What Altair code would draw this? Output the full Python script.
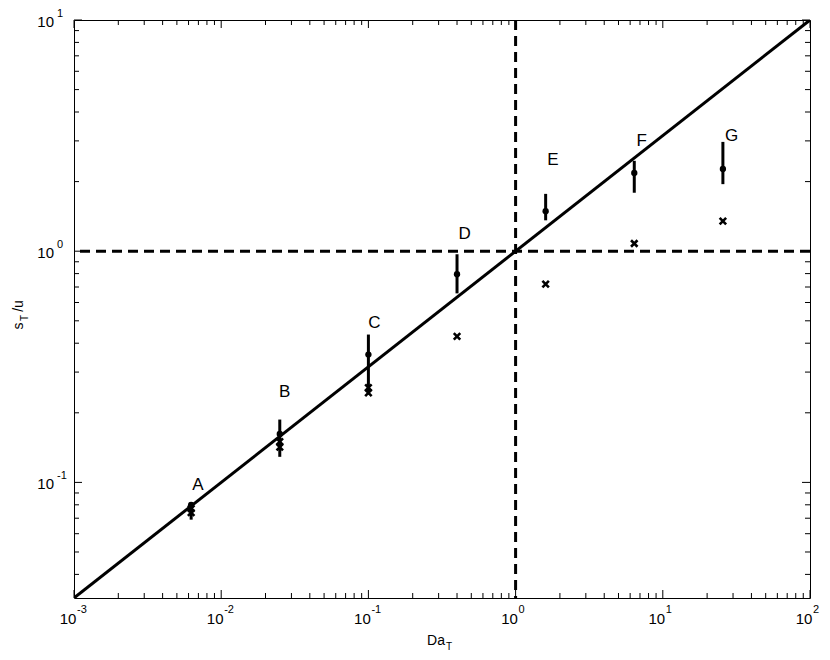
import altair as alt
import pandas as pd

# ---------------- data ----------------
names = ["A", "B", "C", "D", "E", "F", "G"]
da_t = [0.00625, 0.025, 0.1, 0.4, 1.6, 6.4, 25.6]
s_mean = [0.080, 0.162, 0.357, 0.795, 1.49, 2.18, 2.27]
s_lo = [0.069, 0.129, 0.240, 0.657, 1.36, 1.79, 1.95]
s_hi = [0.082, 0.187, 0.436, 0.970, 1.77, 2.46, 2.97]
s_cross = [0.074, 0.150, 0.257, 0.428, 0.72, 1.08, 1.35]
cross2_da = [0.00625, 0.025, 0.1]
cross2_s = [0.077, 0.142, 0.244]
label_da = [0.00695, 0.027, 0.110, 0.451, 1.79, 7.18, 29.3]
label_s = [0.0975, 0.247, 0.487, 1.185, 2.48, 3.0, 3.15]

fit_da = [1e-3, 1e2]
fit_s = [10 ** -1.5, 10.0]

x_decades = [1e-3, 1e-2, 1e-1, 1e0, 1e1, 1e2]
x_exps = ["-3", "-2", "-1", "0", "1", "2"]
y_decades = [1e-1, 1e0, 1e1]
y_exps = ["-1", "0", "1"]
x_minor = [k * 10.0 ** d for d in range(-3, 2) for k in range(2, 10)]
y_minor = [k * 10.0 ** d for d in range(-2, 1) for k in range(2, 10) if k * 10.0 ** d > 10 ** -1.5]

# ---------------- layout ----------------
W, H = 736, 578
FONT = "Liberation Sans"
xs = alt.Scale(type="log", domain=[1e-3, 1e2], nice=False)
ys = alt.Scale(type="log", domain=[10 ** -1.5, 10], nice=False)

def X(f="x"):
    return alt.X(f"{f}:Q", scale=xs, axis=None)

def Y(f="y"):
    return alt.Y(f"{f}:Q", scale=ys, axis=None)

pts = pd.DataFrame({"x": da_t, "y": s_mean, "lo": s_lo, "hi": s_hi, "c": s_cross, "name": names})
labs = pd.DataFrame({"x": label_da, "y": label_s, "name": names})
fit = pd.DataFrame({"x": fit_da, "y": fit_s})
c2 = pd.DataFrame({"x": cross2_da, "y": cross2_s})
xmaj = pd.DataFrame({"x": x_decades, "e": x_exps})
ymaj = pd.DataFrame({"y": y_decades, "e": y_exps})
xmin_df = pd.DataFrame({"x": x_minor})
ymin_df = pd.DataFrame({"y": y_minor})
ref = pd.DataFrame({"v": [1.0]})

layers = []

# ticks inside the box
for df, L in [(xmaj, 8), (xmin_df, 5)]:
    layers.append(alt.Chart(df).mark_rule(color="black", strokeWidth=1).encode(
        x=X(), y=alt.value(H), y2=alt.value(H - L)))
    layers.append(alt.Chart(df).mark_rule(color="black", strokeWidth=1).encode(
        x=X(), y=alt.value(0), y2=alt.value(L)))
for df, L in [(ymaj, 8), (ymin_df, 5)]:
    layers.append(alt.Chart(df).mark_rule(color="black", strokeWidth=1).encode(
        y=Y(), x=alt.value(0), x2=alt.value(L)))
    layers.append(alt.Chart(df).mark_rule(color="black", strokeWidth=1).encode(
        y=Y(), x=alt.value(W - L), x2=alt.value(W)))

# dashed reference lines
layers.append(alt.Chart(ref).mark_rule(color="black", strokeWidth=3, strokeDash=[10, 6]).encode(
    y=alt.Y("v:Q", scale=ys, axis=None)))
layers.append(alt.Chart(ref).mark_rule(color="black", strokeWidth=3, strokeDash=[10, 6]).encode(
    x=alt.X("v:Q", scale=xs, axis=None)))

# fit line
layers.append(alt.Chart(fit).mark_line(color="black", strokeWidth=3, clip=True).encode(x=X(), y=Y()))

# error bars
layers.append(alt.Chart(pts).mark_rule(color="black", strokeWidth=3).encode(
    x=X(), y=Y("lo"), y2="hi:Q"))
# mean dots
layers.append(alt.Chart(pts).mark_point(filled=True, color="black", size=40, shape="circle", opacity=1).encode(
    x=X(), y=Y()))
# crosses
cross_path = "M-1,-1L1,1M1,-1L-1,1"
layers.append(alt.Chart(pts).mark_point(shape=cross_path, filled=False, color="black", size=42,
                                        strokeWidth=2.6, opacity=1).encode(x=X(), y=Y("c")))
layers.append(alt.Chart(c2).mark_point(shape=cross_path, filled=False, color="black", size=42,
                                       strokeWidth=2.6, opacity=1).encode(x=X(), y=Y()))
# point labels
layers.append(alt.Chart(labs).mark_text(font=FONT, fontSize=17, color="black", baseline="middle",
                                        align="center").encode(x=X(), y=Y(), text="name:N"))

# tick labels (10 with superscript exponent)
layers.append(alt.Chart(xmaj).mark_text(font=FONT, fontSize=15, color="black", align="center",
                                        baseline="middle", dx=-6).encode(
    x=X(), y=alt.value(H + 21), text=alt.value("10")))
layers.append(alt.Chart(xmaj).mark_text(font=FONT, fontSize=11, color="black", align="left",
                                        baseline="middle", dx=3).encode(
    x=X(), y=alt.value(H + 12), text="e:N"))
layers.append(alt.Chart(ymaj).mark_text(font=FONT, fontSize=15, color="black", align="right",
                                        baseline="middle", dy=2).encode(
    y=Y(), x=alt.value(-20), text=alt.value("10")))
layers.append(alt.Chart(ymaj).mark_text(font=FONT, fontSize=11, color="black", align="left",
                                        baseline="middle", dy=-6).encode(
    y=Y(), x=alt.value(-17), text="e:N"))

# axis titles with subscripts
layers.append(alt.Chart(pd.DataFrame({"t": ["Da"]})).mark_text(font=FONT, fontSize=14, color="black",
                                                               align="center", baseline="middle").encode(
    x=alt.value(362), y=alt.value(H + 43), text="t:N"))
layers.append(alt.Chart(pd.DataFrame({"t": ["T"]})).mark_text(font=FONT, fontSize=10, color="black",
                                                              align="center", baseline="middle").encode(
    x=alt.value(375), y=alt.value(H + 49), text="t:N"))
layers.append(alt.Chart(pd.DataFrame({"t": ["s"]})).mark_text(font=FONT, fontSize=14, color="black",
                                                              align="center", baseline="middle", angle=270).encode(
    x=alt.value(-55), y=alt.value(306), text="t:N"))
layers.append(alt.Chart(pd.DataFrame({"t": ["T"]})).mark_text(font=FONT, fontSize=10, color="black",
                                                              align="center", baseline="middle", angle=270).encode(
    x=alt.value(-49), y=alt.value(298), text="t:N"))
layers.append(alt.Chart(pd.DataFrame({"t": ["/u"]})).mark_text(font=FONT, fontSize=14, color="black",
                                                               align="center", baseline="middle", angle=270).encode(
    x=alt.value(-55), y=alt.value(286), text="t:N"))

chart = alt.layer(*layers).properties(
    width=W, height=H,
    autosize=alt.AutoSizeParams(type="none"),
    padding={"left": 66, "top": 12, "right": 12, "bottom": 60},
    background="white",
).configure_view(stroke="black", strokeWidth=1)

chart.save("out.html", embed_options={"renderer": "svg", "actions": False})
